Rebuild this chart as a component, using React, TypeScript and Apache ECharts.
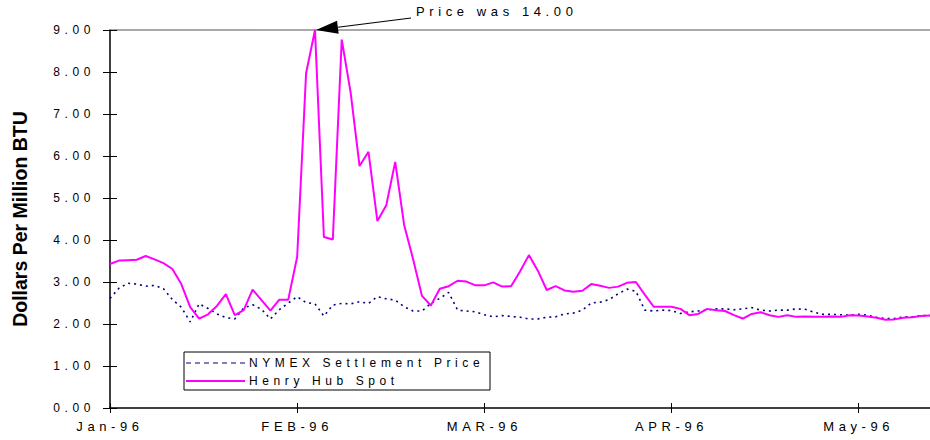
import React, { useEffect, useRef } from 'react';
import * as echarts from 'echarts';

// ---- data ----
const tickLabels = ['Jan-96', 'FEB-96', 'MAR-96', 'APR-96', 'May-96'];
const TICK_EVERY = 21;

const nymex = [
  2.61, 2.85, 2.97, 2.95, 2.90, 2.92, 2.84, 2.58, 2.40, 2.05,
  2.48, 2.37, 2.24, 2.15, 2.12, 2.38, 2.46, 2.35, 2.12, 2.34,
  2.50, 2.65, 2.51, 2.48, 2.19, 2.45, 2.49, 2.48, 2.53, 2.49,
  2.65, 2.60, 2.57, 2.41, 2.31, 2.31, 2.49, 2.61, 2.75, 2.33,
  2.31, 2.29, 2.22, 2.17, 2.20, 2.18, 2.16, 2.12, 2.12, 2.16,
  2.17, 2.24, 2.26, 2.33, 2.50, 2.52, 2.58, 2.72, 2.83, 2.78,
  2.33, 2.31, 2.33, 2.32, 2.25, 2.29, 2.31, 2.33, 2.36, 2.36,
  2.34, 2.36, 2.39, 2.33, 2.31, 2.33, 2.33, 2.36, 2.35, 2.28,
  2.23, 2.23, 2.22, 2.21, 2.23, 2.21, 2.16, 2.13, 2.13, 2.17,
  2.17, 2.20, 2.20,
];

const henryHub = [
  3.43, 3.51, 3.52, 3.53, 3.62, 3.54, 3.45, 3.31, 2.95, 2.40,
  2.13, 2.23, 2.43, 2.71, 2.21, 2.33, 2.82, 2.57, 2.32, 2.58,
  2.58, 3.60, 7.97, 9.00, 4.07, 4.01, 8.77, 7.51, 5.76, 6.10,
  4.45, 4.83, 5.86, 4.36, 3.55, 2.67, 2.44, 2.84, 2.90, 3.03,
  3.01, 2.92, 2.92, 2.99, 2.89, 2.90, 3.25, 3.64, 3.27, 2.81,
  2.90, 2.80, 2.77, 2.79, 2.95, 2.91, 2.86, 2.89, 2.98, 3.00,
  2.70, 2.41, 2.41, 2.41, 2.36, 2.21, 2.24, 2.36, 2.33, 2.31,
  2.21, 2.13, 2.24, 2.28, 2.21, 2.17, 2.21, 2.17, 2.18, 2.17,
  2.17, 2.18, 2.17, 2.21, 2.20, 2.18, 2.15, 2.10, 2.11, 2.15,
  2.16, 2.19, 2.20,
];

const categories = nymex.map((_, i) => String(i));
const seriesNames = ['NYMEX Settlement Price', 'Henry Hub Spot'];
const peakIndex = 23;
const peakNote = 'Price was 14.00';
const yTitle = 'Dollars Per Million BTU';

const FONT = 'Liberation Sans';
const NAVY = '#000080';
const MAGENTA = '#ff00ff';

export default function App() {
  const ref = useRef<HTMLDivElement>(null);

  useEffect(() => {
    if (!ref.current) return;
    const chart = echarts.init(ref.current, undefined, { renderer: 'svg' });
    const onTick = (i: number) => i % TICK_EVERY === 0;

    chart.setOption({
      animation: false,
      grid: { left: 110, top: 30, bottom: 32, right: -2.7 },
      xAxis: [
        {
          type: 'category',
          data: categories,
          boundaryGap: false,
          position: 'bottom',
          axisLine: { onZero: false, lineStyle: { color: '#000', width: 1.5 } },
          axisTick: { interval: onTick, length: 5, lineStyle: { color: '#000', width: 1 } },
          axisLabel: {
            interval: onTick,
            formatter: (_v: string, i: number) => tickLabels[Math.round(i / TICK_EVERY)] ?? '',
            color: '#000',
            fontFamily: FONT,
            fontSize: 13,
            margin: 12,
          },
          splitLine: { show: false },
        },
        {
          type: 'category',
          data: categories,
          boundaryGap: false,
          position: 'bottom',
          axisLine: { show: false, onZero: false },
          axisTick: { inside: true, interval: onTick, length: 5, lineStyle: { color: '#000', width: 1 } },
          axisLabel: { show: false },
          splitLine: { show: false },
        },
        {
          type: 'category',
          data: categories,
          boundaryGap: false,
          position: 'top',
          axisLine: { onZero: false, lineStyle: { color: '#8c8c8c', width: 1.5 } },
          axisTick: { show: false },
          axisLabel: { show: false },
          splitLine: { show: false },
        },
      ],
      yAxis: [
        {
          type: 'value',
          min: 0,
          max: 9,
          interval: 1,
          position: 'left',
          axisLine: { show: true, onZero: false, lineStyle: { color: '#000', width: 1.5 } },
          axisTick: { show: true, length: 7, lineStyle: { color: '#000', width: 1 } },
          axisLabel: {
            formatter: (v: number) => v.toFixed(2),
            color: '#000',
            fontFamily: FONT,
            fontSize: 12,
            margin: 15,
          },
          splitLine: { show: false },
          name: yTitle,
          nameLocation: 'middle',
          nameGap: 80,
          nameRotate: 90,
          nameTextStyle: { fontFamily: FONT, fontWeight: 'bold', fontSize: 19.5, color: '#000' },
        },
        {
          type: 'value',
          min: 0,
          max: 9,
          interval: 1,
          position: 'left',
          axisLine: { show: false, onZero: false },
          axisTick: { show: true, inside: true, length: 7, lineStyle: { color: '#000', width: 1 } },
          axisLabel: { show: false },
          splitLine: { show: false },
        },
      ],
      series: [
        {
          name: seriesNames[0],
          type: 'line',
          data: nymex,
          xAxisIndex: 0,
          yAxisIndex: 0,
          symbol: 'none',
          clip: false,
          lineStyle: { color: NAVY, width: 1.6, type: [2, 4] },
          z: 2,
        },
        {
          name: seriesNames[1],
          type: 'line',
          data: henryHub,
          xAxisIndex: 0,
          yAxisIndex: 0,
          symbol: 'none',
          clip: false,
          lineStyle: { color: MAGENTA, width: 2 },
          z: 3,
        },
      ],
    });

    const tip = chart.convertToPixel({ gridIndex: 0 }, [peakIndex, henryHub[peakIndex]]) as number[];
    const tx = tip[0] + 1;
    const ty = tip[1];
    const ex = tx + 95, ey = ty - 12;
    const len = Math.hypot(ex - tx, ey - ty);
    const ux = (ex - tx) / len, uy = (ey - ty) / len;
    const hl = 22, hw = 6.5;
    const bx = tx + ux * hl, by = ty + uy * hl;
    const px = -uy * hw, py = ux * hw;

    const lgX = 184, lgY = 352, lgW = 306, lgH = 38;

    chart.setOption({
      graphic: [
        {
          type: 'polygon',
          shape: { points: [[tx, ty], [bx + px, by + py], [bx - px, by - py]] },
          style: { fill: '#000' },
          z: 100,
        },
        {
          type: 'line',
          shape: { x1: bx, y1: by, x2: ex, y2: ey },
          style: { stroke: '#000', lineWidth: 1.2 },
          z: 100,
        },
        {
          type: 'text',
          x: ex + 5,
          y: ty - 19,
          style: { text: peakNote, fill: '#000', fontFamily: FONT, fontSize: 13, verticalAlign: 'middle', align: 'left' },
          z: 100,
        },
        {
          type: 'rect',
          shape: { x: lgX, y: lgY, width: lgW, height: lgH },
          style: { fill: '#fff', stroke: '#000', lineWidth: 1 },
          z: 100,
        },
        {
          type: 'line',
          shape: { x1: lgX + 2, y1: lgY + 11, x2: lgX + 61, y2: lgY + 11 },
          style: { stroke: NAVY, lineWidth: 1.2, lineDash: [5, 4] },
          z: 101,
        },
        {
          type: 'text',
          x: lgX + 65,
          y: lgY + 11,
          style: { text: seriesNames[0], fill: '#000', fontFamily: FONT, fontSize: 12, verticalAlign: 'middle', align: 'left' },
          z: 101,
        },
        {
          type: 'line',
          shape: { x1: lgX + 2, y1: lgY + 29, x2: lgX + 61, y2: lgY + 29 },
          style: { stroke: MAGENTA, lineWidth: 2 },
          z: 101,
        },
        {
          type: 'text',
          x: lgX + 65,
          y: lgY + 29,
          style: { text: seriesNames[1], fill: '#000', fontFamily: FONT, fontSize: 12, verticalAlign: 'middle', align: 'left' },
          z: 101,
        },
      ],
    });

    return () => chart.dispose();
  }, []);

  return (
    <>
      <style>{`.chart-root text { letter-spacing: 4.6px; } .chart-root text[style*="bold"] { letter-spacing: normal; }`}</style>
      <div
        ref={ref}
        className="chart-root"
        style={{ position: 'absolute', left: 0, top: 0, width: 930, height: 440, background: '#fff' }}
      />
    </>
  );
}
